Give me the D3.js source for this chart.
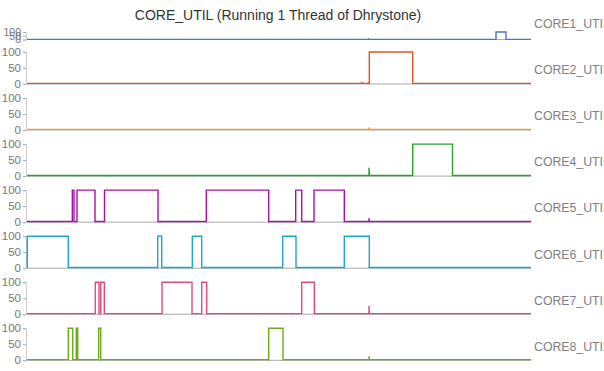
<!DOCTYPE html>
<html><head><meta charset="utf-8">
<script src="https://cdn.jsdelivr.net/npm/d3@7"></script>
<style>body{margin:0;background:#fff}svg{display:block}text{font-family:"Liberation Sans",Arial,sans-serif}</style>
</head><body>
<svg id="c" width="604" height="371"></svg>
<script>
const title = "CORE_UTIL (Running 1 Thread of Dhrystone)";
const seriesNames = ["CORE1_UTIL","CORE2_UTIL","CORE3_UTIL","CORE4_UTIL","CORE5_UTIL","CORE6_UTIL","CORE7_UTIL","CORE8_UTIL"];
const colors = ["#4f72c6","#e5532d","#f59d1d","#2aa12c","#a314a6","#1ea6d1","#e24b80","#6cab1b"];
const yTicks = [0, 50, 100];
const timeDomain = [0, 504];
const idleLevel = 2;
// intervals at 100% utilisation (seconds)
const core1On = [[469, 479]];
const core2On = [[342.3, 385.7]];
const core3On = [];
const core4On = [[385.7, 425.5]];
const core5On = [[45.3, 47], [50, 68], [77.5, 131], [179.3, 241.7], [268.7, 274.7], [287, 317.3]];
const core6On = [[0.3, 41.3], [130.7, 134.7], [165.3, 174.7], [255.7, 269], [317.3, 342.3]];
const core7On = [[68.3, 72], [73.7, 77.3], [135, 165], [174.7, 179.7], [274.7, 287.3]];
const core8On = [[41.3, 45.7], [49.3, 50.7], [71.7, 73.7], [241.7, 256]];
// short spikes [time, value]
const core1Spikes = [[342, 6]];
const core2Spikes = [[335, 6], [342, 8]];
const core3Spikes = [[342, 8]];
const core4Spikes = [[342, 26]];
const core5Spikes = [[342, 12]];
const core6Spikes = [[342, 6]];
const core7Spikes = [[342, 26]];
const core8Spikes = [[342, 12]];

const onList = [core1On, core2On, core3On, core4On, core5On, core6On, core7On, core8On];
const spikeList = [core1Spikes, core2Spikes, core3Spikes, core4Spikes, core5Spikes, core6Spikes, core7Spikes, core8Spikes];

function buildSeries(on, spikes){
  const pts = [[timeDomain[0], idleLevel]];
  const events = [];
  on.forEach(([s,e]) => events.push({t:s, p:[[s,idleLevel],[s,100],[e,100],[e,idleLevel]]}));
  spikes.forEach(([t,v]) => events.push({t, p:[[t,idleLevel],[t,v],[t+0.4,idleLevel]]}));
  events.sort((a,b)=>a.t-b.t).forEach(ev => pts.push(...ev.p));
  pts.push([timeDomain[1], idleLevel]);
  return pts;
}

const svg = d3.select("#c");
const left = 27, right = 531;
const x = d3.scaleLinear().domain(timeDomain).range([left, right]);

svg.append("text").attr("x", 278).attr("y", 20).attr("text-anchor","middle")
  .attr("font-size", 14).attr("fill", "#333").text(title);

const panels = seriesNames.map((name, i) => {
  if (i === 0) return {zero: 39.5, top: 32, label: 24};
  const zero = 84 + (i - 1) * 46.05;
  return {zero, top: zero - 32, label: zero - 14};
});

seriesNames.forEach((name, i) => {
  const p = panels[i];
  const y = d3.scaleLinear().domain([0, 100]).range([p.zero, p.top]);
  const g = svg.append("g");
  g.append("line").attr("x1", left).attr("x2", right).attr("y1", p.zero).attr("y2", p.zero)
    .attr("stroke", "#aaa").attr("stroke-width", 1);
  const yAxis = d3.axisLeft(y).tickValues(yTicks).tickSize(3).tickPadding(2);
  const ag = g.append("g").attr("transform", `translate(${left - 1},0)`).call(yAxis);
  ag.select(".domain").attr("stroke", "#ccc");
  ag.selectAll(".tick line").attr("stroke", "#aaa");
  ag.selectAll(".tick text").attr("fill", "#777").attr("font-size", i === 0 ? 10.5 : 11.5)
    .attr("font-family", "Liberation Sans, Arial, sans-serif");
  const line = d3.line().x(d => x(d[0])).y(d => y(d[1]));
  g.append("path").datum(buildSeries(onList[i], spikeList[i]))
    .attr("fill", "none").attr("stroke", colors[i]).attr("stroke-width", 1.4)
    .attr("d", line);
  svg.append("text").attr("x", 534).attr("y", p.label).attr("dy", "0.35em")
    .attr("font-size", 12.3).attr("fill", "#808080").text(name);
});
</script>
</body></html>
